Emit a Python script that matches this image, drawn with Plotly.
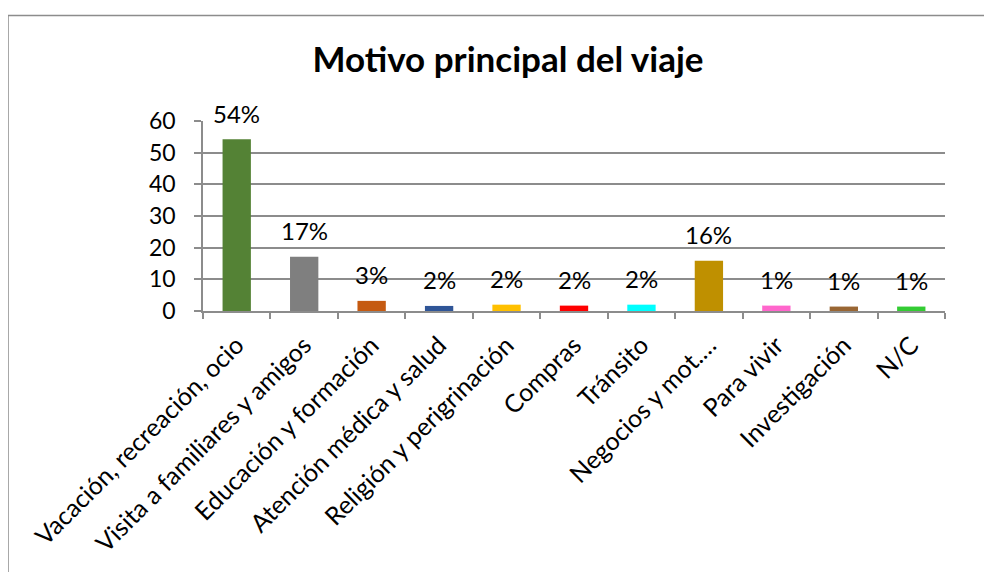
import plotly.graph_objects as go

categories = ["Vacación, recreación, ocio", "Visita a familiares y amigos", "Educación y formación",
              "Atención médica y salud", "Religión y perigrinación", "Compras", "Tránsito",
              "Negocios y mot.…", "Para vivir", "Investigación", "N/C"]
values = [54.2, 17.1, 3.2, 1.6, 2.0, 1.7, 2.0, 15.9, 1.7, 1.4, 1.4]
labels = ["54%", "17%", "3%", "2%", "2%", "2%", "2%", "16%", "1%", "1%", "1%"]
colors = ["#548235", "#7f7f7f", "#c55a11", "#2f5597", "#ffc000", "#ff0000", "#00ffff",
          "#bf9000", "#ff66cc", "#996633", "#33cc33"]
yticks = [0, 10, 20, 30, 40, 50, 60]

FONT = "Lato"

fig = go.Figure(go.Bar(x=categories, y=values, marker=dict(color=colors, line=dict(width=0)),
                       hoverinfo="skip"))

for c, v, t in zip(categories, values, labels):
    fig.add_annotation(x=c, y=v, text=t, showarrow=False, yanchor="middle", yshift=26,
                       font=dict(family=FONT, size=24, color="#000000"))

fig.add_shape(type="rect", xref="paper", yref="paper", x0=-0.2628, x1=1.3, y0=-1.6, y1=1.555,
              line=dict(color="#8c8c8c", width=1.5), fillcolor="rgba(0,0,0,0)", layer="below")

fig.update_layout(
    width=992, height=572,
    margin=dict(l=195, r=55, t=113, b=269),
    paper_bgcolor="white", plot_bgcolor="white",
    bargap=0.58,
    showlegend=False,
    title=dict(text="<b>Motivo principal del viaje</b>", x=0.504, xanchor="center",
               y=1 - 52 / 572, yanchor="middle",
               font=dict(family=FONT, size=35, color="#000000")),
    font=dict(family=FONT, size=24, color="#000000"),
    xaxis=dict(type="category", tickangle=-45, showline=True, linecolor="#8c8c8c", linewidth=1.5,
               ticks="outside", tickson="boundaries", ticklen=6, tickcolor="#8c8c8c", tickwidth=1.5,
               ticklabelstandoff=8,
               tickfont=dict(family=FONT, size=25, color="#000000"), showgrid=False),
    yaxis=dict(range=[0, 60], tickvals=yticks, showline=True, linecolor="#8c8c8c", linewidth=1.5,
               ticks="outside", ticklen=7, tickcolor="#8c8c8c", tickwidth=1.5,
               showgrid=True, gridcolor="#8c8c8c", gridwidth=1.5, zeroline=False,
               ticklabelstandoff=14,
               tickfont=dict(family=FONT, size=23, color="#000000")),
)

fig.write_html("out.html")
